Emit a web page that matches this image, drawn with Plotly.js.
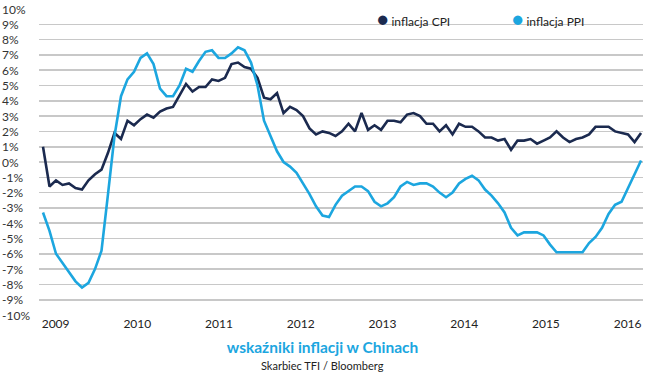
<!DOCTYPE html>
<html>
<head>
<meta charset="utf-8">
<script src="https://cdn.plot.ly/plotly-3.0.1.min.js"></script>
<style>html,body{margin:0;padding:0;background:#fff;}#chart{width:650px;height:372px;}</style>
</head>
<body>
<div id="chart"></div>
<script>
// Monthly year-on-year inflation in China, Jan 2009 - Sep 2016 (%)
const cpiName = 'inflacja CPI';
const ppiName = 'inflacja PPI';
const cpi = [
  1.0,-1.6,-1.2,-1.5,-1.4,-1.7,-1.8,-1.2,-0.8,-0.5,0.6,1.9,
  1.5,2.7,2.4,2.8,3.1,2.9,3.3,3.5,3.6,4.4,5.1,4.6,
  4.9,4.9,5.4,5.3,5.5,6.4,6.5,6.2,6.1,5.5,4.2,4.1,
  4.5,3.2,3.6,3.4,3.0,2.2,1.8,2.0,1.9,1.7,2.0,2.5,
  2.0,3.2,2.1,2.4,2.1,2.7,2.7,2.6,3.1,3.2,3.0,2.5,
  2.5,2.0,2.4,1.8,2.5,2.3,2.3,2.0,1.6,1.6,1.4,1.5,
  0.8,1.4,1.4,1.5,1.2,1.4,1.6,2.0,1.6,1.3,1.5,1.6,
  1.8,2.3,2.3,2.3,2.0,1.9,1.8,1.3,1.9
];
const ppi = [
  -3.3,-4.5,-6.0,-6.6,-7.2,-7.8,-8.2,-7.9,-7.0,-5.8,-2.1,1.7,
  4.3,5.4,5.9,6.8,7.1,6.4,4.8,4.3,4.3,5.0,6.1,5.9,
  6.6,7.2,7.3,6.8,6.8,7.1,7.5,7.3,6.5,5.0,2.7,1.7,
  0.7,0.0,-0.3,-0.7,-1.4,-2.1,-2.9,-3.5,-3.6,-2.8,-2.2,-1.9,
  -1.6,-1.6,-1.9,-2.6,-2.9,-2.7,-2.3,-1.6,-1.3,-1.5,-1.4,-1.4,
  -1.6,-2.0,-2.3,-2.0,-1.4,-1.1,-0.9,-1.2,-1.8,-2.2,-2.7,-3.3,
  -4.3,-4.8,-4.6,-4.6,-4.6,-4.8,-5.4,-5.9,-5.9,-5.9,-5.9,-5.9,
  -5.3,-4.9,-4.3,-3.4,-2.8,-2.6,-1.7,-0.8,0.1
];
const yearLabels = ['2009','2010','2011','2012','2013','2014','2015','2016'];
const yTicks = [10,9,8,7,6,5,4,3,2,1,0,-1,-2,-3,-4,-5,-6,-7,-8,-9,-10];
const titleText = 'wskaźniki inflacji w Chinach';
const sourceText = 'Skarbiec TFI / Bloomberg';

const months = cpi.map((_, i) => i);
const CPI_COLOR = '#1b2a4f';
const PPI_COLOR = '#1ca6df';
const FONT = 'Lato, "Open Sans", sans-serif';

// year label positions on the month-index axis
const yearTickVals = yearLabels.map((_, k) => 1.94 + 12.57 * k);

const traces = [
  {x: months, y: cpi, type: 'scatter', mode: 'lines', name: cpiName,
   line: {color: CPI_COLOR, width: 2.6}, showlegend: false},
  {x: months, y: ppi, type: 'scatter', mode: 'lines', name: ppiName,
   line: {color: PPI_COLOR, width: 2.6}, showlegend: false}
];

const annotations = [];
yTicks.forEach(v => {
  annotations.push({
    xref: 'paper', yref: 'y', x: -39/604, y: v, xanchor: 'left', yanchor: 'middle',
    text: v + '%', showarrow: false, font: {family: FONT, size: 12, color: '#333333'}
  });
});
[[cpiName, CPI_COLOR, 336/604], [ppiName, PPI_COLOR, 471/604]].forEach(([n, c, px]) => {
  annotations.push({
    xref: 'paper', yref: 'paper', x: px, y: 1 - 9/306, xanchor: 'left', yanchor: 'middle',
    text: '<span style="color:' + c + ';font-size:19px">●</span> ' + n, showarrow: false,
    font: {family: FONT, size: 12, color: '#222222'}
  });
});
annotations.push({
  xref: 'paper', yref: 'paper', x: (322.5-39)/604, y: -(365-315)/306, xanchor: 'center', yanchor: 'middle',
  text: sourceText, showarrow: false, font: {family: FONT, size: 11, color: '#222222'}
});

const layout = {
  width: 650, height: 372,
  margin: {l: 39, r: 7, t: 9, b: 57},
  paper_bgcolor: '#ffffff', plot_bgcolor: '#ffffff',
  showlegend: false,
  title: {text: '<b>' + titleText + '</b>', xref: 'container', yref: 'container',
          x: 322.5/650, y: 1 - 348/372, xanchor: 'center', yanchor: 'middle',
          font: {family: FONT, size: 15.5, color: PPI_COLOR}},
  xaxis: {range: [-0.615, 92.3], tickvals: yearTickVals, ticktext: yearLabels,
          showgrid: false, zeroline: false, showline: false, ticks: '',
          tickfont: {family: FONT, size: 12, color: '#222222'}, fixedrange: true},
  yaxis: {range: [-10, 10], dtick: 1, showticklabels: false, showgrid: true,
          gridcolor: '#c8c8c8', gridwidth: 1.6, zeroline: false, showline: false,
          ticks: '', fixedrange: true},
  annotations: annotations
};

Plotly.newPlot('chart', traces, layout, {staticPlot: true, displayModeBar: false});
</script>
</body>
</html>
